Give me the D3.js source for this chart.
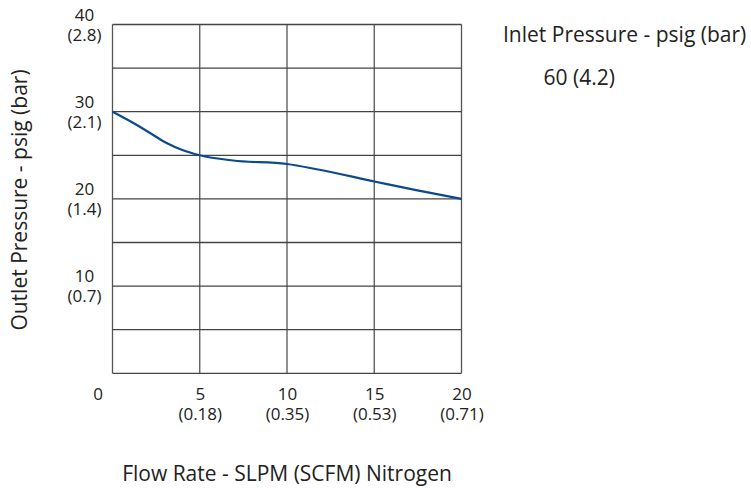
<!DOCTYPE html>
<html>
<head>
<meta charset="utf-8">
<script src="https://cdn.jsdelivr.net/npm/d3@7"></script>
<style>
  body { margin: 0; background: #fff; }
  text { font-family: "Open Sans", sans-serif; fill: #222; }
</style>
</head>
<body>
<svg width="751" height="488"></svg>
<script>
// chart data
let flowSlpm = [0, 1.2, 2.2, 3.1, 4, 5, 6.9, 10, 11.7, 15, 17.4, 20];
let outletPsig = [30, 28.7, 27.5, 26.4, 25.6, 25, 24.4, 24, 23.4, 22, 21, 20];
let xTicks = [0, 5, 10, 15, 20];
let xTickSub = ["", "(0.18)", "(0.35)", "(0.53)", "(0.71)"];
let yTicks = [10, 20, 30, 40];
let yTickSub = ["(0.7)", "(1.4)", "(2.1)", "(2.8)"];
let gridY = [0, 5, 10, 15, 20, 25, 30, 35, 40];
let inletLabel = "60 (4.2)";

let svg = d3.select("svg");
let plotLeft = 112.5, plotRight = 461.5, plotTop = 24.5, plotBottom = 373.3;

let x = d3.scaleLinear().domain([0, 20]).range([plotLeft, plotRight]);
let y = d3.scaleLinear().domain([0, 40]).range([plotBottom, plotTop]);

// grid
svg.append("g").selectAll("line")
    .data(xTicks)
    .enter().append("line")
    .attr("x1", d => x(d)).attr("x2", d => x(d))
    .attr("y1", plotTop).attr("y2", plotBottom)
    .attr("stroke", "#555").attr("stroke-width", 1.3);

svg.append("g").selectAll("line")
    .data(gridY)
    .enter().append("line")
    .attr("x1", plotLeft).attr("x2", plotRight)
    .attr("y1", d => y(d)).attr("y2", d => y(d))
    .attr("stroke", "#444").attr("stroke-width", 1.3);

// curve
let line = d3.line()
    .x((d, i) => x(flowSlpm[i]))
    .y(d => y(d))
    .curve(d3.curveMonotoneX);

svg.append("path")
    .datum(outletPsig)
    .attr("d", line)
    .attr("fill", "none")
    .attr("stroke", "#0b4a8b")
    .attr("stroke-width", 2.2);

// y tick labels
let yl = svg.append("g").selectAll("g")
    .data(yTicks)
    .enter().append("g");
yl.append("text")
    .attr("x", 84.5).attr("y", d => y(d) - 4)
    .attr("text-anchor", "middle").style("font-size", "17px")
    .text(d => d);
yl.append("text")
    .attr("x", 84.5).attr("y", d => y(d) + 16)
    .attr("text-anchor", "middle").style("font-size", "17px")
    .text((d, i) => yTickSub[i]);

// x tick labels
let xl = svg.append("g").selectAll("g")
    .data(xTicks)
    .enter().append("g");
xl.append("text")
    .attr("x", d => d == 0 ? x(d) - 14.5 : x(d) + 0.5).attr("y", 400)
    .attr("text-anchor", "middle").style("font-size", "17px")
    .text(d => d);
xl.append("text")
    .attr("x", d => x(d) + 0.5).attr("y", 420)
    .attr("text-anchor", "middle").style("font-size", "17px")
    .text((d, i) => xTickSub[i]);

// axis titles
svg.append("text")
    .attr("x", 287).attr("y", 481)
    .attr("text-anchor", "middle").style("font-size", "21px")
    .text("Flow Rate - SLPM (SCFM) Nitrogen");

svg.append("text")
    .attr("transform", "translate(26.5,200) rotate(-90)")
    .attr("text-anchor", "middle").style("font-size", "21px")
    .text("Outlet Pressure - psig (bar)");

// legend
svg.append("text")
    .attr("x", 503).attr("y", 41.5)
    .style("font-size", "21px")
    .text("Inlet Pressure - psig (bar)");

svg.append("text")
    .attr("x", 543.5).attr("y", 85)
    .style("font-size", "21px")
    .text(inletLabel);
</script>
</body>
</html>
